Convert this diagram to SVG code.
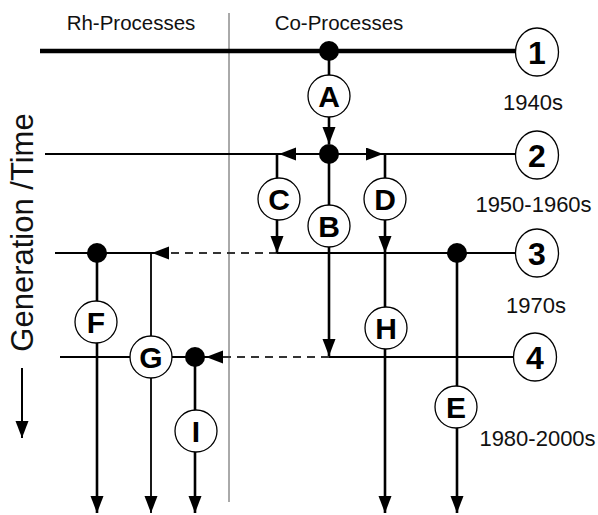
<svg xmlns="http://www.w3.org/2000/svg" width="598" height="515" viewBox="0 0 598 515">
<defs>
<marker id="ah" markerUnits="userSpaceOnUse" markerWidth="18" markerHeight="14" refX="17" refY="6.5" orient="auto">
<path d="M0,0 L17,6.5 L0,13 z" fill="#000"/>
</marker>
<style>
.lbl{font-family:"Liberation Sans",Arial,sans-serif;fill:#111}
.hdr{font-size:20.5px;text-anchor:middle}
.yr{font-size:22px;text-anchor:middle}
.nd circle,.nd ellipse{fill:#fff;stroke:#000;stroke-width:1.3}
.nd text{font-family:"Liberation Sans",Arial,sans-serif;font-weight:bold;text-anchor:middle;fill:#000}
.let{font-size:30px}
.num{font-size:32px}
.h{stroke:#000;stroke-width:2;fill:none}
.v{stroke:#000;stroke-width:2.6;fill:none}
.dash{stroke:#333;stroke-width:2;stroke-dasharray:8 6;fill:none}
.dot{fill:#000}
</style>
</defs>
<rect width="598" height="515" fill="#fff"/>
<text class="lbl hdr" x="131" y="30">Rh-Processes</text>
<text class="lbl hdr" x="339" y="30">Co-Processes</text>
<line x1="229" y1="13" x2="229" y2="502" stroke="#555" stroke-width="1"/>
<text class="lbl" font-size="31" text-anchor="middle" transform="translate(33,232.5) rotate(-90)">Generation /Time</text>
<line x1="22" y1="368" x2="22" y2="438" stroke="#000" stroke-width="2" marker-end="url(#ah)"/>
<g id="connectors">
<line x1="40" y1="51" x2="516" y2="51" stroke="#000" stroke-width="4.5"/>
<line class="h" x1="45" y1="154" x2="516" y2="154"/>
<line class="h" x1="55" y1="253" x2="152" y2="253"/>
<line class="h" x1="277" y1="253" x2="516" y2="253"/>
<line class="dash" x1="277" y1="253" x2="160" y2="253"/>
<line class="h" x1="166" y1="253" x2="152" y2="253" marker-end="url(#ah)"/>
<line class="h" x1="60" y1="357" x2="206" y2="357"/>
<line class="h" x1="329" y1="357" x2="515" y2="357"/>
<line class="dash" x1="329" y1="357" x2="214" y2="357"/>
<line class="h" x1="222" y1="357" x2="206" y2="357" marker-end="url(#ah)"/>
<line class="v" x1="329" y1="51" x2="329" y2="144" marker-end="url(#ah)"/>
<line class="h" x1="329" y1="154" x2="279" y2="154" marker-end="url(#ah)"/>
<line class="h" x1="329" y1="154" x2="383" y2="154" marker-end="url(#ah)"/>
<line class="v" x1="277" y1="154" x2="277" y2="253" marker-end="url(#ah)"/>
<line class="v" x1="385" y1="154" x2="385" y2="253" marker-end="url(#ah)"/>
<line class="v" x1="329" y1="154" x2="329" y2="356" marker-end="url(#ah)"/>
<line class="v" x1="385" y1="253" x2="385" y2="513" marker-end="url(#ah)"/>
<line class="v" x1="457" y1="253" x2="457" y2="513" marker-end="url(#ah)"/>
<line class="v" x1="97" y1="253" x2="97" y2="513" marker-end="url(#ah)"/>
<line x1="151" y1="253" x2="151" y2="513" stroke="#000" stroke-width="1.8" marker-end="url(#ah)"/>
<line class="v" x1="195" y1="357" x2="195" y2="513" marker-end="url(#ah)"/>
</g>
<g id="dots">
<circle class="dot" cx="329" cy="51" r="10"/>
<circle class="dot" cx="329" cy="154" r="10"/>
<circle class="dot" cx="97" cy="253" r="10"/>
<circle class="dot" cx="457" cy="253" r="10"/>
<circle class="dot" cx="195" cy="357" r="10"/>
</g>
<g id="n1" class="nd"><ellipse cx="537" cy="52" rx="21.5" ry="24"/><text class="num" x="537" y="63.5">1</text></g>
<g id="n2" class="nd"><ellipse cx="537" cy="155" rx="21.5" ry="24"/><text class="num" x="537" y="166.5">2</text></g>
<g id="n3" class="nd"><ellipse cx="537" cy="253" rx="21.5" ry="24"/><text class="num" x="537" y="264.5">3</text></g>
<g id="n4" class="nd"><ellipse cx="535" cy="357" rx="21.5" ry="24"/><text class="num" x="535" y="368.5">4</text></g>
<g id="nA" class="nd"><circle cx="329" cy="96" r="21"/><text class="let" x="329" y="106.5">A</text></g>
<g id="nB" class="nd"><circle cx="329" cy="226" r="21"/><text class="let" x="329" y="236.5">B</text></g>
<g id="nC" class="nd"><circle cx="279" cy="199" r="21"/><text class="let" x="279" y="209.5">C</text></g>
<g id="nD" class="nd"><circle cx="385" cy="199" r="21"/><text class="let" x="385" y="209.5">D</text></g>
<g id="nE" class="nd"><circle cx="456" cy="407" r="21"/><text class="let" x="456" y="417.5">E</text></g>
<g id="nF" class="nd"><circle cx="96" cy="322" r="21"/><text class="let" x="96" y="332.5">F</text></g>
<g id="nG" class="nd"><circle cx="151" cy="357" r="21"/><text class="let" x="151" y="367.5">G</text></g>
<g id="nH" class="nd"><circle cx="386" cy="328" r="21"/><text class="let" x="386" y="338.5">H</text></g>
<g id="nI" class="nd"><circle cx="196" cy="431" r="21"/><text class="let" x="196" y="441.5">I</text></g>
<g id="years">
<text class="lbl yr" x="533" y="110">1940s</text>
<text class="lbl yr" x="533.5" y="212">1950-1960s</text>
<text class="lbl yr" x="536" y="313">1970s</text>
<text class="lbl yr" x="537.5" y="446">1980-2000s</text>
</g>
</svg>
